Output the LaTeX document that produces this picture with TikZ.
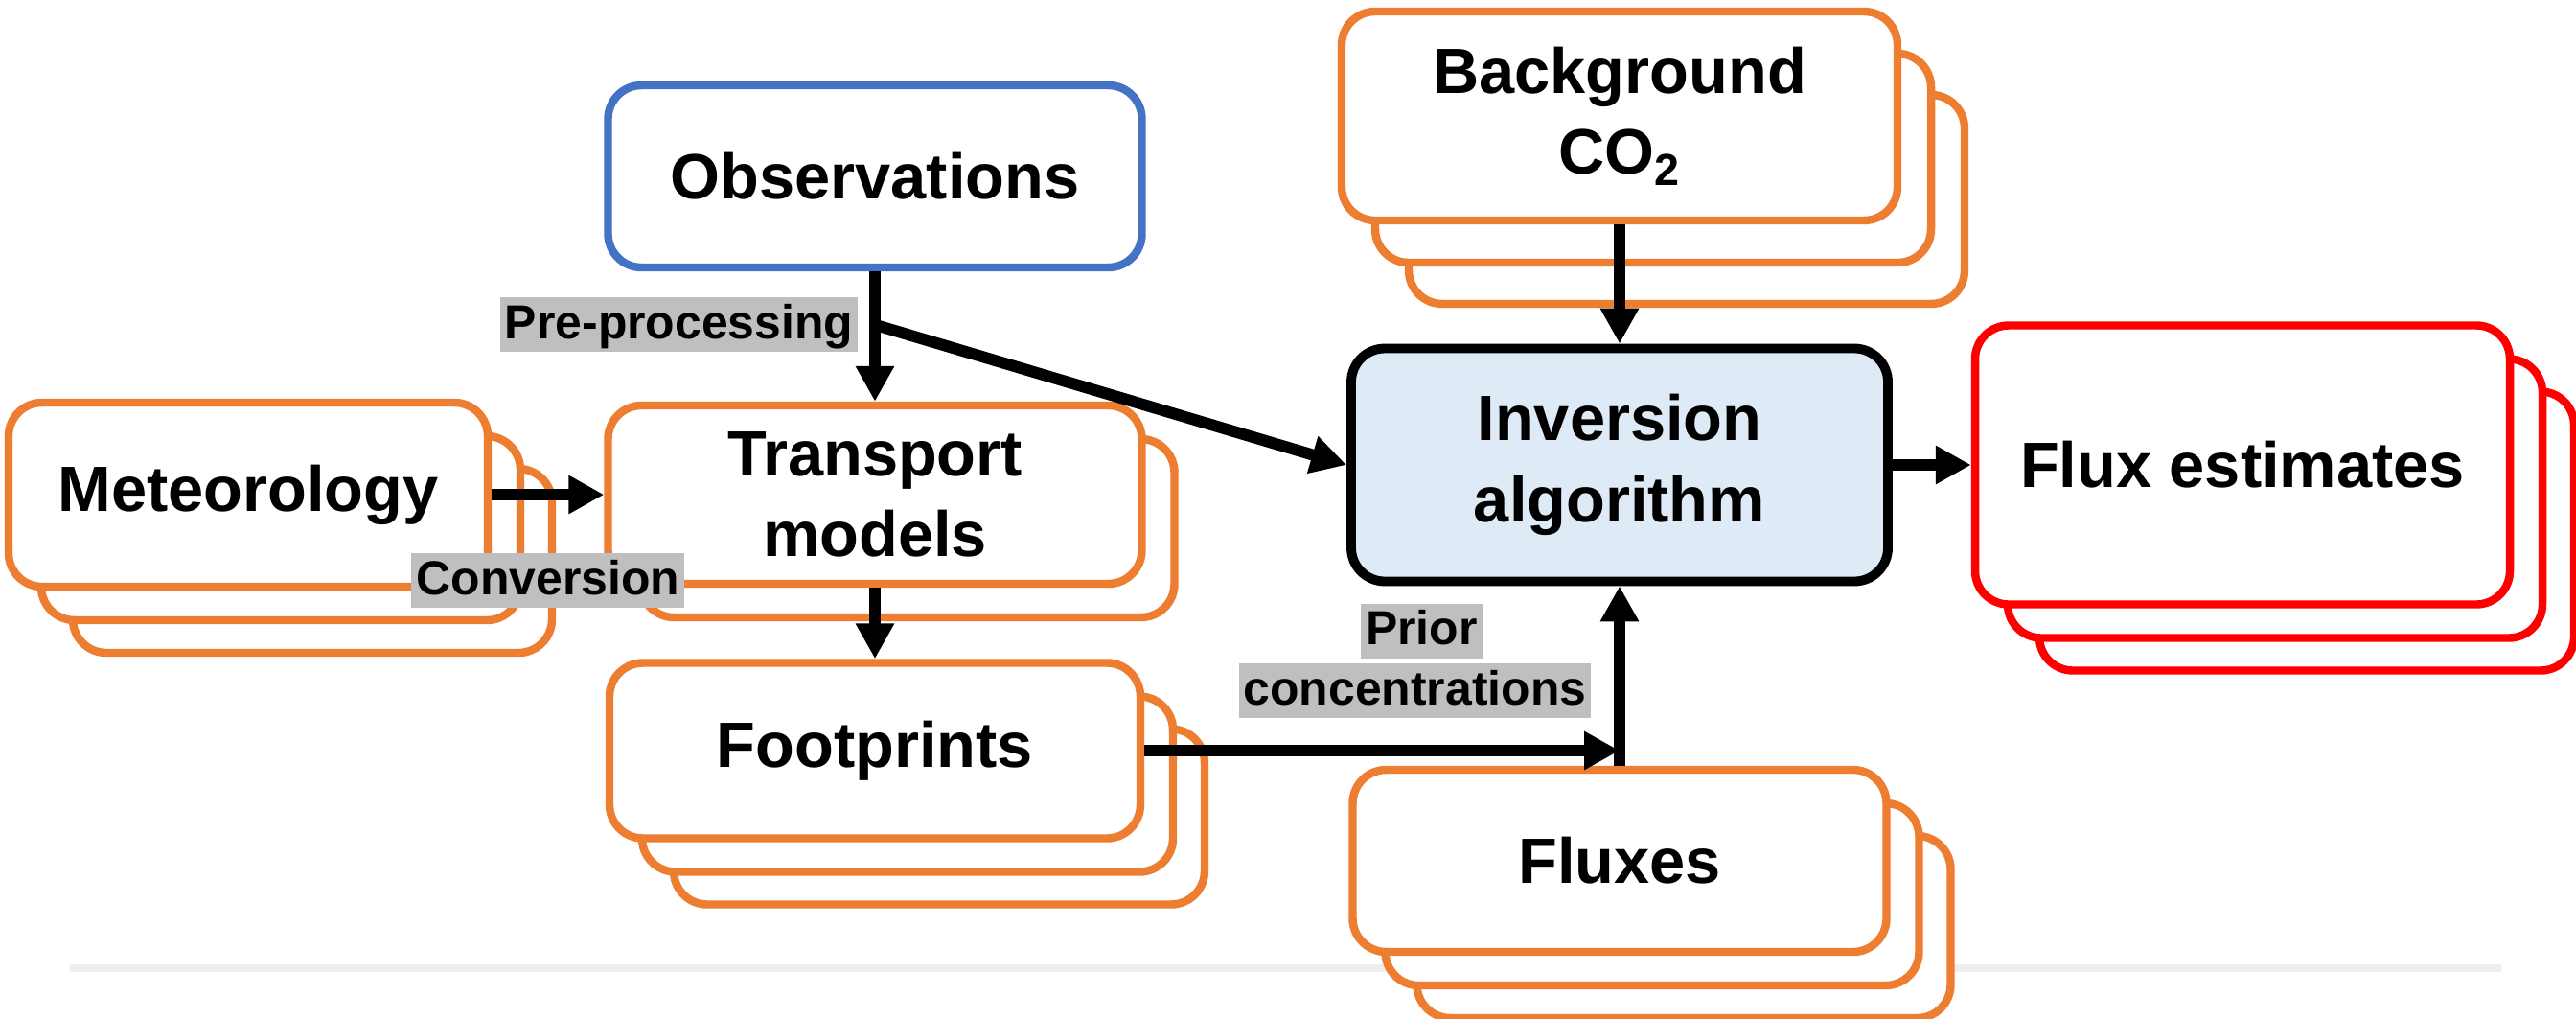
\documentclass[tikz,border=0pt]{standalone}
\usepackage{fontspec}
\setmainfont{Liberation Sans}
\usetikzlibrary{shapes,arrows.meta,positioning,shadows}
\definecolor{boxorange}{HTML}{ED7D31}
\definecolor{obsblue}{HTML}{4472C4}
\definecolor{invfill}{HTML}{DEEBF7}
\definecolor{notegray}{HTML}{BFBFBF}
\definecolor{rulegray}{HTML}{EEEEEE}
\newcommand{\boxfont}{\bfseries\fontsize{19}{24}\selectfont}
\newcommand{\notefont}{\bfseries\fontsize{14.2}{17}\selectfont}
\tikzstyle{block} = [rectangle, draw=boxorange, fill=white, line width=2.4pt,
    rounded corners=0.35cm, align=center, font=\boxfont,
    minimum width=5.57cm, minimum height=1.9cm]
\tikzstyle{line} = [draw, line width=0.12cm, -{Triangle[length=0.37cm,width=0.38cm]}]
\tikzstyle{note} = [fill=notegray, font=\notefont, inner xsep=0.05cm,
    inner ysep=0pt, text height=0.43cm, text depth=0.14cm]
\tikzset{
  % two copies behind the box
  stack3/.style={
    copy shadow={shadow xshift=0.67cm, shadow yshift=-0.69cm, draw=#1, fill=white, line width=2.4pt},
    copy shadow={shadow xshift=0.34cm, shadow yshift=-0.35cm, draw=#1, fill=white, line width=2.4pt}},
  stack3/.default=boxorange,
  % one copy behind the box
  stack2/.style={
    copy shadow={shadow xshift=0.34cm, shadow yshift=-0.35cm, draw=#1, fill=white, line width=2.4pt}},
  stack2/.default=boxorange,
  % taller offsets for the background box
  bgstack/.style={
    copy shadow={shadow xshift=0.7cm, shadow yshift=-0.87cm, draw=boxorange, fill=white, line width=2.4pt},
    copy shadow={shadow xshift=0.35cm, shadow yshift=-0.44cm, draw=boxorange, fill=white, line width=2.4pt}}
}

\begin{document}
\begin{tikzpicture}[node distance=3.32cm]
        \useasboundingbox (0,0) rectangle (26.88,-10.62);
        % separator line below the diagram
        \draw [rulegray, line width=0.08cm] (0.73,-10.10) -- (26.10,-10.10);

        % Place nodes
        % 1. Inputs: observations, meteorology, transport
        \node [block, draw=obsblue] (obs) at (9.13,-1.84) {Observations};
        \node [block, stack2, below of=obs, minimum height=1.86cm] (trans) {Transport\\models};
        \node [block, stack3, below of=trans, node distance=2.67cm, minimum width=5.54cm, minimum height=1.83cm] (foot) {Footprints};
        \node [block, stack3, left of=trans, node distance=6.54cm, minimum width=5cm, minimum height=1.92cm] (met) {Meteorology};

        % 2. Inversion with background, fluxes and estimates
        \node [block, draw=black, fill=invfill, line width=2.8pt, minimum width=5.6cm, minimum height=2.43cm] (inv) at (16.90,-4.85) {Inversion\\algorithm};
        \node [block, bgstack, above of=inv, node distance=3.64cm, minimum width=5.8cm, minimum height=2.18cm] (bg) {Background\\CO\textsubscript{2}};
        \node [block, stack3, below of=inv, node distance=4.13cm] (flux) {Fluxes};
        \node [block, stack3=red, draw=red, right of=inv, node distance=6.5cm, minimum width=5.58cm, minimum height=2.91cm] (est) {Flux estimates};

        % helper points on the connectors
        \path (obs.south) -- coordinate[pos=0.41] (split) (trans.north);
        \coordinate (meet) at (foot.east -| flux.north);

        % Draw edges
        \path [line] (obs) -- (trans);
        \path [line] (split) -- (inv.west);
        \node [note, left=0.17cm of split] (pre) {Pre-processing};
        \path [line] (met) -- node [note, below=0.55cm] (conv) {Conversion} (trans);
        \path [line] (trans) -- (foot);
        \path [line] (foot) -- (meet);
        \path [line] (flux) -- (inv);
        \node [note, above left=0.33cm and 0.29cm of meet] (conc) {concentrations};
        \node [note, above=0.04cm of conc, xshift=0.07cm] (prior) {Prior};
        \path [line] (bg) -- (inv);
        \path [line] (inv) -- (est);
\end{tikzpicture}
\end{document}
